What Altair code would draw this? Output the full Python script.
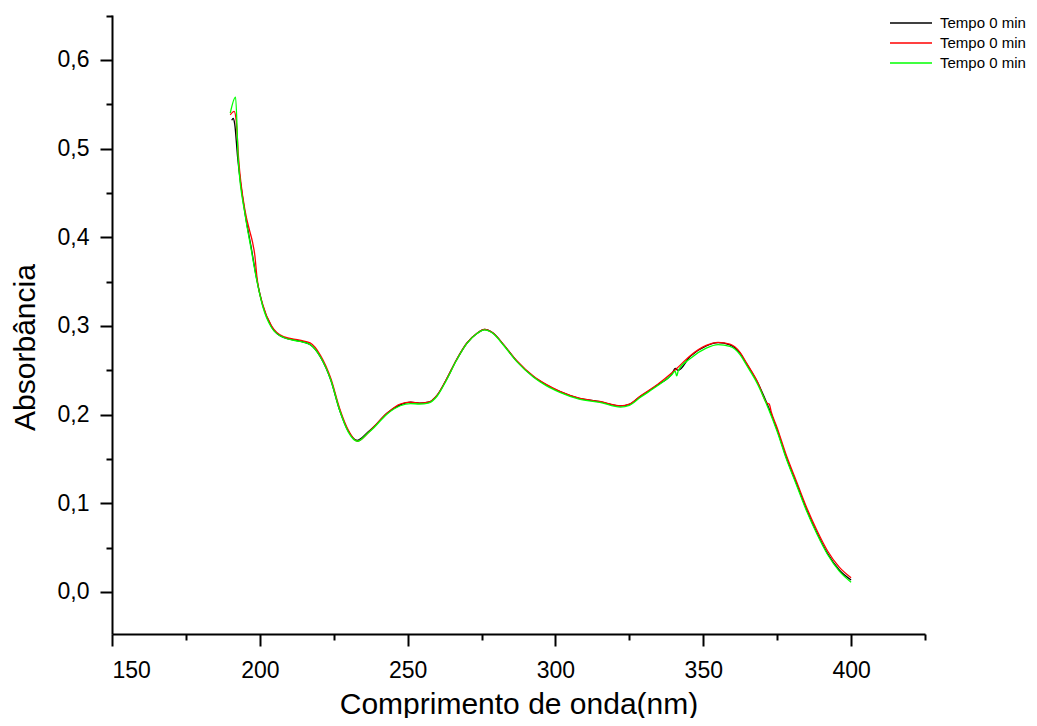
import altair as alt
import pandas as pd

# Black series
wl_k = [190.5, 191, 191.5, 192.5, 195, 197, 199, 201, 204, 208, 213.5, 217, 220.5, 224, 227, 230, 233,
        236.5, 238.5, 243, 247.5, 251, 254, 257, 260, 263, 266.5, 270, 273.5, 276, 279, 282.5, 287, 292.5,
        297, 301.5, 308, 315, 322, 325, 328.5, 334.5, 339.5, 340.5, 341.5, 345.5, 351, 355, 359, 362.5,
        364.5, 368.5, 372, 375, 378, 381.5, 385, 388.5, 392, 396, 400]
ab_k = [0.532, 0.534, 0.528, 0.49, 0.427, 0.39, 0.352, 0.323, 0.299, 0.287, 0.283, 0.279, 0.265, 0.239,
        0.205, 0.181, 0.171, 0.180, 0.186, 0.2015, 0.211, 0.214, 0.213, 0.214, 0.222, 0.239, 0.2616, 0.2805,
        0.2917, 0.296, 0.2917, 0.2786, 0.26, 0.243, 0.2334, 0.226, 0.2184, 0.2146, 0.2098, 0.2116, 0.220,
        0.2334, 0.2466, 0.252, 0.250, 0.2654, 0.2774, 0.2812, 0.2786, 0.269, 0.258, 0.2354, 0.209, 0.1827,
        0.1526, 0.1226, 0.0925, 0.0662, 0.0436, 0.0248, 0.0135]

# Red series
wl_r = [190, 191.3, 192, 192.8, 195, 196.5, 197.5, 198.3, 199, 201, 204, 208, 213.5, 217, 220.5, 224, 227,
        230, 233, 236.5, 238.5, 243, 247.5, 251, 254, 257, 260, 263, 266.5, 270, 273.5, 276, 279, 282.5,
        287, 292.5, 297, 301.5, 308, 315, 322, 325, 328.5, 334.5, 339.5, 341, 345.5, 351, 355, 359, 362.5,
        364.5, 368.5, 371.5, 372.3, 373, 375, 378, 381.5, 385, 388.5, 392, 396, 400]
ab_r = [0.538, 0.542, 0.532, 0.49, 0.43, 0.408, 0.395, 0.38, 0.356, 0.324, 0.300, 0.288, 0.284, 0.281,
        0.267, 0.241, 0.207, 0.182, 0.170, 0.179, 0.186, 0.2015, 0.212, 0.214, 0.213, 0.214, 0.222, 0.239,
        0.2616, 0.2805, 0.2917, 0.2962, 0.2917, 0.2786, 0.2605, 0.2435, 0.2338, 0.2262, 0.2186, 0.2148,
        0.2098, 0.2118, 0.2205, 0.234, 0.2475, 0.252, 0.2662, 0.278, 0.2815, 0.2795, 0.270, 0.259, 0.236,
        0.213, 0.212, 0.203, 0.185, 0.155, 0.125, 0.095, 0.069, 0.0465, 0.028, 0.016]

# Green series
wl_g = [190, 191.8, 192.7, 195, 197, 199, 201, 204, 208, 213.5, 217, 220.5, 224, 227, 230, 233, 236.5,
        238.5, 243, 247.5, 251, 254, 257, 260, 263, 266.5, 270, 273.5, 276, 279, 282.5, 287, 292.5, 297,
        301.5, 308, 315, 322, 325, 328.5, 334.5, 339.5, 340.5, 341, 341.6, 345.5, 351, 355, 359, 362.5,
        364.5, 368.5, 372, 375, 378, 381.5, 385, 388.5, 392, 396, 400]
ab_g = [0.540, 0.558, 0.488, 0.426, 0.388, 0.351, 0.322, 0.298, 0.287, 0.2825, 0.279, 0.265, 0.239, 0.205,
        0.180, 0.170, 0.179, 0.185, 0.2005, 0.210, 0.2125, 0.212, 0.213, 0.221, 0.238, 0.261, 0.280, 0.2915,
        0.2955, 0.2912, 0.278, 0.2595, 0.2425, 0.2325, 0.2252, 0.2175, 0.2138, 0.2085, 0.2105, 0.219,
        0.2325, 0.2455, 0.249, 0.2436, 0.250, 0.263, 0.275, 0.279, 0.277, 0.2675, 0.2565, 0.2335, 0.207,
        0.181, 0.151, 0.121, 0.091, 0.065, 0.0425, 0.0235, 0.011]

series_keys = ["k", "r", "g"]
series_colors = ["#000000", "#ff0000", "#00ff00"]
legend_label = "Tempo 0 min"

x_ticks = [150, 175, 200, 225, 250, 275, 300, 325, 350, 375, 400, 425]
y_ticks = [0.0, 0.05, 0.1, 0.15, 0.2, 0.25, 0.3, 0.35, 0.4, 0.45, 0.5, 0.55, 0.6, 0.65]

FONT = "Liberation Sans"

color_scale = alt.Scale(domain=series_keys, range=series_colors)
x_scale = alt.Scale(domain=[150, 425], nice=False, zero=False)
y_scale = alt.Scale(domain=[-0.0474, 0.6507], nice=False, zero=False)

x_axis = alt.Axis(
    values=x_ticks,
    labelExpr="datum.value % 50 === 0 ? format(datum.value, 'd') : ''",
    tickSize={"condition": {"test": "datum.value % 50 === 0", "value": 12}, "value": 6},
    tickWidth=2, tickColor="black",
    domainColor="black", domainWidth=2,
    grid=False,
    labelFont=FONT, labelFontSize=23, labelColor="black",
    labelBaseline="alphabetic", labelPadding=31,
    title="Comprimento de onda(nm)",
    titleFont=FONT, titleFontSize=30, titleFontWeight="normal", titleColor="black",
    titleBaseline="alphabetic", titleY=79,
)
y_axis = alt.Axis(
    values=y_ticks,
    labelExpr="abs(datum.value*10 - round(datum.value*10)) < 0.01 ? replace(format(datum.value, '.1f'), '.', ',') : ''",
    tickSize={"condition": {"test": "abs(datum.value*10 - round(datum.value*10)) < 0.01", "value": 12}, "value": 6},
    tickWidth=2, tickColor="black",
    domainColor="black", domainWidth=2,
    grid=False,
    labelFont=FONT, labelFontSize=23, labelColor="black",
    labelPadding=11,
    title="Absorbância",
    titleFont=FONT, titleFontSize=30, titleFontWeight="normal", titleColor="black",
    titleBaseline="alphabetic", titleX=-78, titleY=332, titleAngle=270,
)
legend = alt.Legend(
    title=None, orient="none", legendX=788, legendY=-3,
    symbolType="M-2.1,0H2.1", symbolSize=400, symbolStrokeWidth=1.5,
    labelExpr="'" + legend_label + "'",
    labelFont=FONT, labelFontSize=15, labelColor="black", labelLimit=200,
    labelOffset=18, rowPadding=1,
)

def layer(wl, ab, key):
    df = pd.DataFrame({"wl": wl, "ab": ab, "s": [key] * len(wl)})
    return alt.Chart(df).mark_line(strokeWidth=1.3, interpolate="monotone").encode(
        x=alt.X("wl:Q", scale=x_scale, axis=x_axis),
        y=alt.Y("ab:Q", scale=y_scale, axis=y_axis),
        color=alt.Color("s:N", scale=color_scale, legend=legend),
    )

chart = alt.layer(
    layer(wl_k, ab_k, "k"),
    layer(wl_r, ab_r, "r"),
    layer(wl_g, ab_g, "g"),
).properties(
    width=813, height=619,
    autosize=alt.AutoSizeParams(type="none"),
    padding={"left": 104, "top": 7, "right": 104, "bottom": 84},
    background="white",
).configure_view(stroke=None)

chart.save("out.html", embed_options={"renderer": "svg", "actions": False})
